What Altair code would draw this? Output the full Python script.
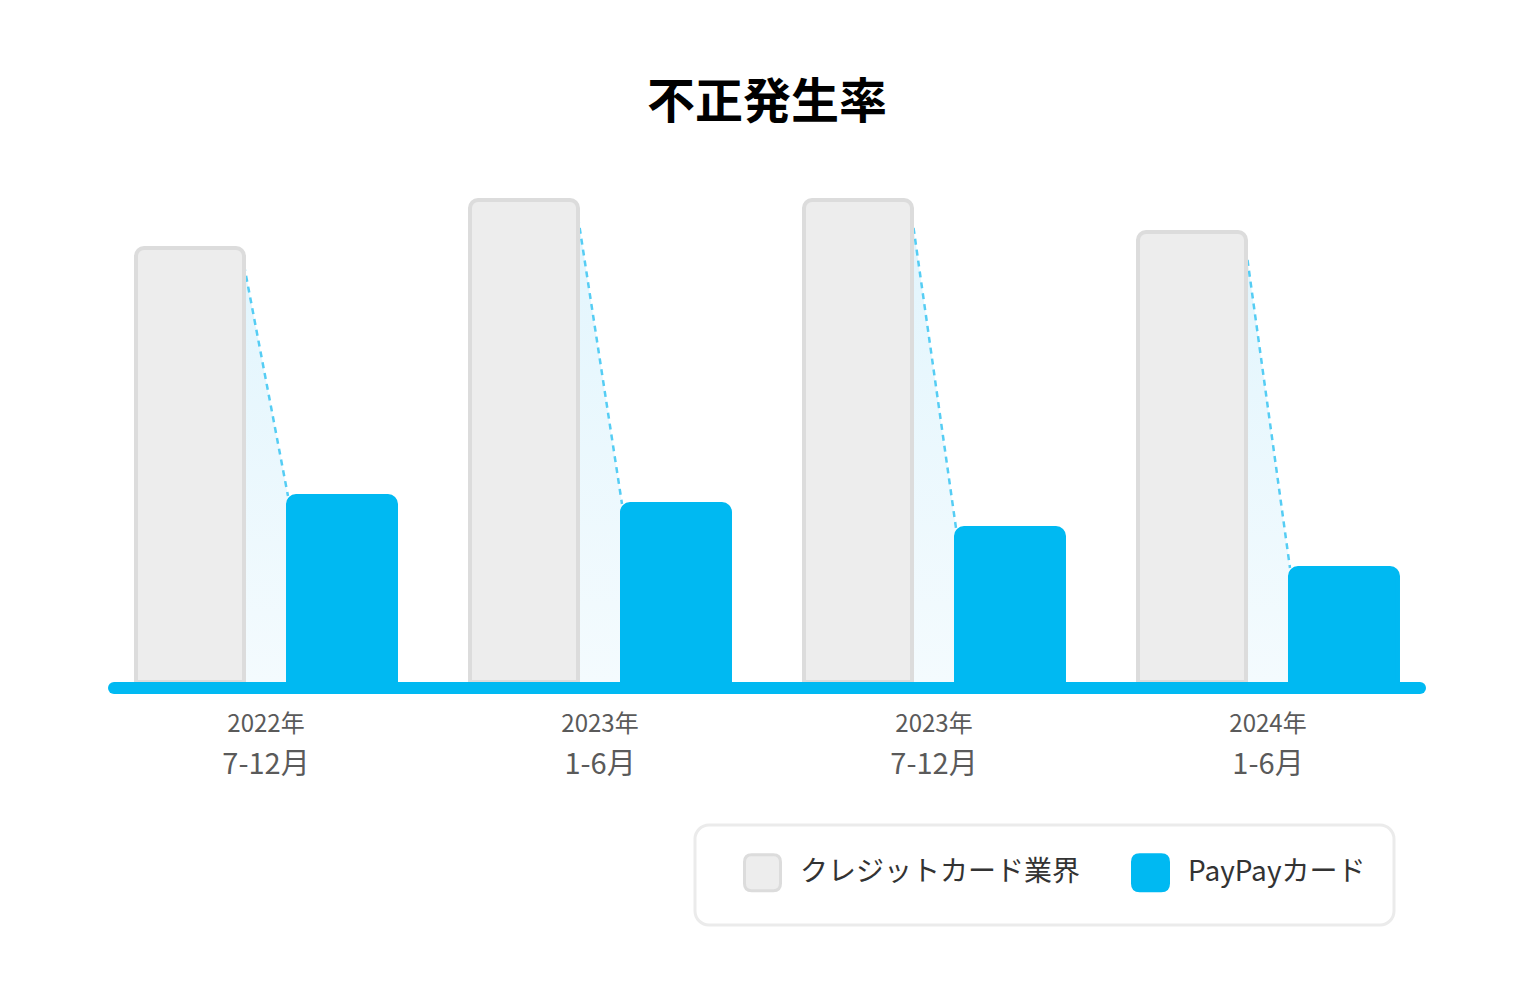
import altair as alt
import pandas as pd

# ---- data ----
years = ["2022年", "2023年", "2023年", "2024年"]
months = ["7-12月", "1-6月", "7-12月", "1-6月"]
series = ["クレジットカード業界", "PayPayカード"]
industry = [43.4, 48.2, 48.2, 45.0]
paypay = [18.6, 17.8, 15.4, 11.4]

periods = [f"{y} {m}" for y, m in zip(years, months)]

# ---- style ----
FONT = "Noto Sans CJK JP"
GRAY_FILL = "#ededed"
GRAY_STROKE = "#dcdcdc"
BLUE = "#00b9f2"
DASH = "#55cdf4"
W, H = 1306, 500
YMAX = 50
PI, PO, PIO = 0.2216, 0.0659, 0.2895
GAP = 1.7

bars_df = pd.DataFrame({
    "period": periods * 2,
    "series": [series[0]] * len(periods) + [series[1]] * len(periods),
    "value": industry + paypay,
})

# connector geometry expressed in band-step units (derived from the band paddings)
grp = 1 - PI
ostep = grp / (2 - PIO)
gray_right = PO + ostep * (1 - PIO)
blue_left = PO + ostep
XQ_MAX = len(periods) - PI + 2 * PO
rows = []
for i, (p, a, b) in enumerate(zip(periods, industry, paypay)):
    rows.append({"period": p, "u": i + gray_right, "v": a - GAP})
    rows.append({"period": p, "u": i + blue_left, "v": b})
conn_df = pd.DataFrame(rows)

labels_df = pd.DataFrame({"period": periods, "year": years, "month": months, "zero": [0] * len(periods)})
base_df = pd.DataFrame({"base": [0]})

yscale = alt.Scale(domain=[0, YMAX], nice=False)
xband = alt.Scale(type="band", domain=periods, paddingInner=PI, paddingOuter=PO)
xq = alt.Scale(domain=[0, XQ_MAX], nice=False, zero=False)

PATH = "M-0.6,-1H0.6Q1,-1,1,-0.6V0.6Q1,1,0.6,1H-0.6Q-1,1,-1,0.6V-0.6Q-1,-1,-0.6,-1Z"
leg = alt.Legend(
    title=None, orient="none", legendX=581, legendY=643, direction="horizontal",
    symbolType=PATH, symbolSize=1296, symbolStrokeWidth=3,
    labelFont=FONT, labelFontSize=28, labelColor="#333333", labelOffset=18,
    labelLimit=500, columnPadding=30, symbolOffset=20, padding=28,
    cornerRadius=14, strokeColor="#ebebeb", fillColor="#ffffff",
)

area = alt.Chart(conn_df).mark_area(
    color=alt.Gradient(
        gradient="linear",
        stops=[alt.GradientStop(color="#e2f5fd", offset=0), alt.GradientStop(color="#f4fbfe", offset=1)],
        x1=0, x2=0, y1=0, y2=1,
    )
).encode(
    x=alt.X("u:Q", scale=xq, axis=None),
    y=alt.Y("v:Q", scale=yscale, axis=None, stack=None),
    detail="period:N",
)

line = alt.Chart(conn_df).mark_line(strokeDash=[6, 5], strokeWidth=2.5, color=DASH).encode(
    x=alt.X("u:Q", scale=xq, axis=None),
    y=alt.Y("v:Q", scale=yscale, axis=None),
    detail="period:N",
)

bars = alt.Chart(bars_df).mark_bar(cornerRadiusTopLeft=8, cornerRadiusTopRight=8, strokeWidth=4).encode(
    x=alt.X("period:N", sort=periods, scale=xband, axis=None),
    xOffset=alt.XOffset("series:N", sort=series, scale=alt.Scale(domain=series, paddingInner=PIO, paddingOuter=0)),
    y=alt.Y("value:Q", scale=yscale, axis=None),
    fill=alt.Fill("series:N", sort=series, scale=alt.Scale(domain=series, range=[GRAY_FILL, BLUE]), legend=leg),
    stroke=alt.Stroke("series:N", sort=series, scale=alt.Scale(domain=series, range=[GRAY_STROKE, BLUE]), legend=leg),
)

baseline = alt.Chart(base_df).mark_rule(strokeWidth=12, strokeCap="round", color=BLUE, yOffset=6).encode(
    y=alt.Y("base:Q", scale=yscale, axis=None)
)

t1 = alt.Chart(labels_df).mark_text(dy=43, fontSize=24, font=FONT, color="#5a5a5a", baseline="middle").encode(
    x=alt.X("period:N", sort=periods, scale=xband, axis=None),
    y=alt.Y("zero:Q", scale=yscale, axis=None),
    text="year:N",
)
t2 = alt.Chart(labels_df).mark_text(dy=83, fontSize=29, font=FONT, color="#5a5a5a", baseline="middle").encode(
    x=alt.X("period:N", sort=periods, scale=xband, axis=None),
    y=alt.Y("zero:Q", scale=yscale, axis=None),
    text="month:N",
)

chart = alt.layer(area, line, bars, baseline, t1, t2).resolve_scale(
    x="independent"
).properties(
    width=W, height=H,
    title=alt.Title("不正発生率", font=FONT, fontSize=48, fontWeight="bold", color="#000000", anchor="middle", offset=54),
    autosize=alt.AutoSizeParams(type="none"),
    padding={"left": 106, "top": 174, "right": 100, "bottom": 280},
).configure_view(stroke=None).configure_legend(strokeWidth=3)

chart.save("out.html", embed_options={"renderer": "svg", "actions": False})
